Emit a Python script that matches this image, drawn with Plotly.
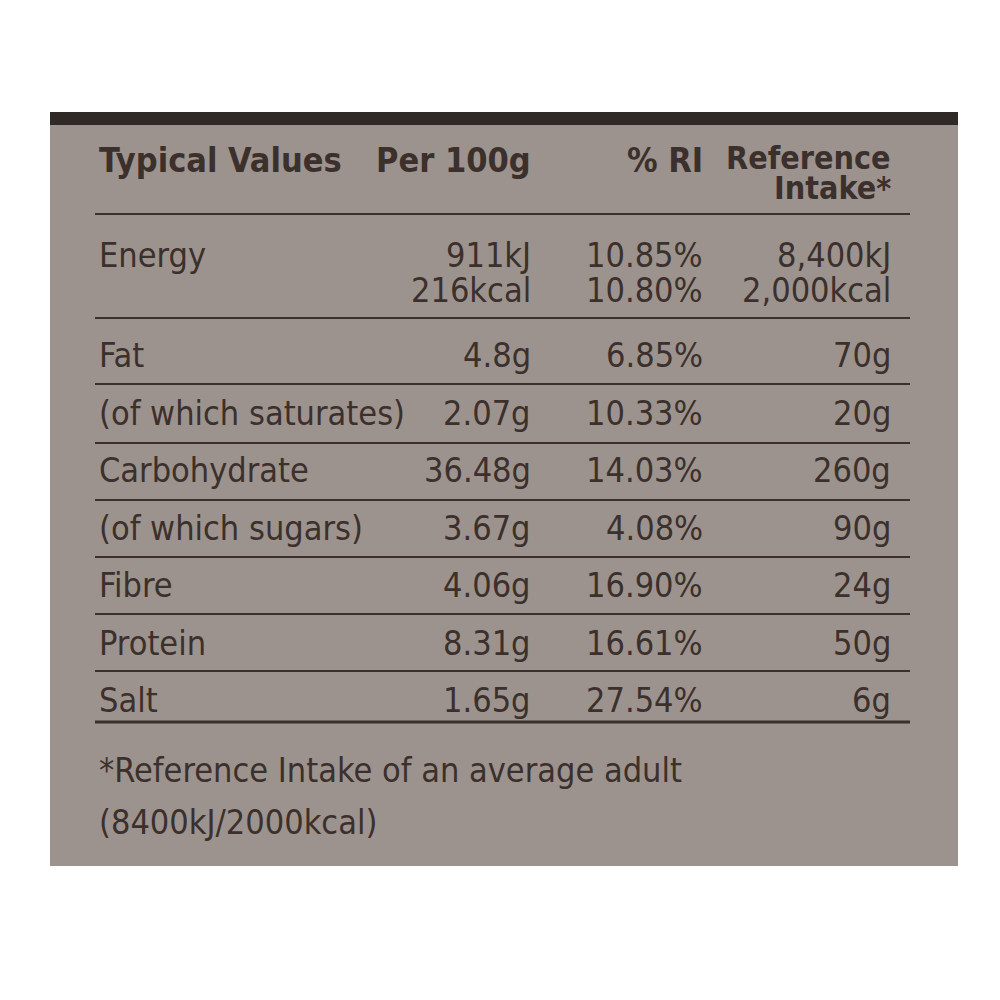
import plotly.graph_objects as go

# ---- data ----
nutrients = ["Energy", "", "Fat", "(of which saturates)", "Carbohydrate",
             "(of which sugars)", "Fibre", "Protein", "Salt"]
per_100g = ["911kJ", "216kcal", "4.8g", "2.07g", "36.48g", "3.67g", "4.06g", "8.31g", "1.65g"]
pct_ri = ["10.85%", "10.80%", "6.85%", "10.33%", "14.03%", "4.08%", "16.90%", "16.61%", "27.54%"]
ref_intake = ["8,400kJ", "2,000kcal", "70g", "20g", "260g", "90g", "24g", "50g", "6g"]
headers = ["Typical Values", "Per 100g", "% RI", "Reference", "Intake*"]
footnote = ["*Reference Intake of an average adult", "(8400kJ/2000kcal)"]

# ---- layout ----
row_y = [255, 290, 355, 413, 470, 528, 585, 643, 700]
line_y = [214, 318, 384, 443, 500, 557, 614, 671]
col_x = [97, 533, 705, 893]
ink = "#3b302b"
font = dict(family="Liberation Sans Narrow, DejaVu Sans Condensed, Arial Narrow, sans-serif",
            size=34, color=ink)

fig = go.Figure()
shapes = [
    dict(type="rect", x0=50, x1=958, y0=122, y1=866, fillcolor="#9d938e", line_width=0, layer="below"),
    dict(type="rect", x0=50, x1=958, y0=112, y1=125, fillcolor="#2f2a28", line_width=0, layer="below"),
]
for y in line_y:
    shapes.append(dict(type="line", x0=95, x1=910, y0=y, y1=y, line=dict(color=ink, width=2)))
shapes.append(dict(type="line", x0=95, x1=910, y0=722, y1=722, line=dict(color=ink, width=3)))

ann = []
def add(x, y, t, anchor, size=34):
    ann.append(dict(x=x, y=y, text=t, xref="x", yref="y", showarrow=False,
                    xanchor=anchor, yanchor="middle", font=dict(font, size=size)))

add(col_x[0], 160, "<b>" + headers[0] + "</b>", "left")
add(col_x[1], 160, "<b>" + headers[1] + "</b>", "right")
add(col_x[2], 160, "<b>" + headers[2] + "</b>", "right")
add(col_x[3], 158, "<b>" + headers[3] + "</b>", "right", size=32)
add(col_x[3], 188, "<b>" + headers[4] + "</b>", "right", size=32)

for i in range(len(nutrients)):
    y = row_y[i]
    if nutrients[i]:
        add(col_x[0], y, nutrients[i], "left")
    add(col_x[1], y, per_100g[i], "right")
    add(col_x[2], y, pct_ri[i], "right")
    add(col_x[3], y, ref_intake[i], "right")

add(97, 770, footnote[0], "left")
add(97, 822, footnote[1], "left")

# compensate the 8px page margin so marks land on reference pixels
fig.update_layout(
    width=1000, height=1000, margin=dict(l=0, r=0, t=0, b=0),
    paper_bgcolor="white", plot_bgcolor="white",
    xaxis=dict(range=[8, 1008], visible=False, fixedrange=True),
    yaxis=dict(range=[1008, 8], visible=False, fixedrange=True),
    shapes=shapes, annotations=ann, showlegend=False,
)
fig.write_html("out.html")
